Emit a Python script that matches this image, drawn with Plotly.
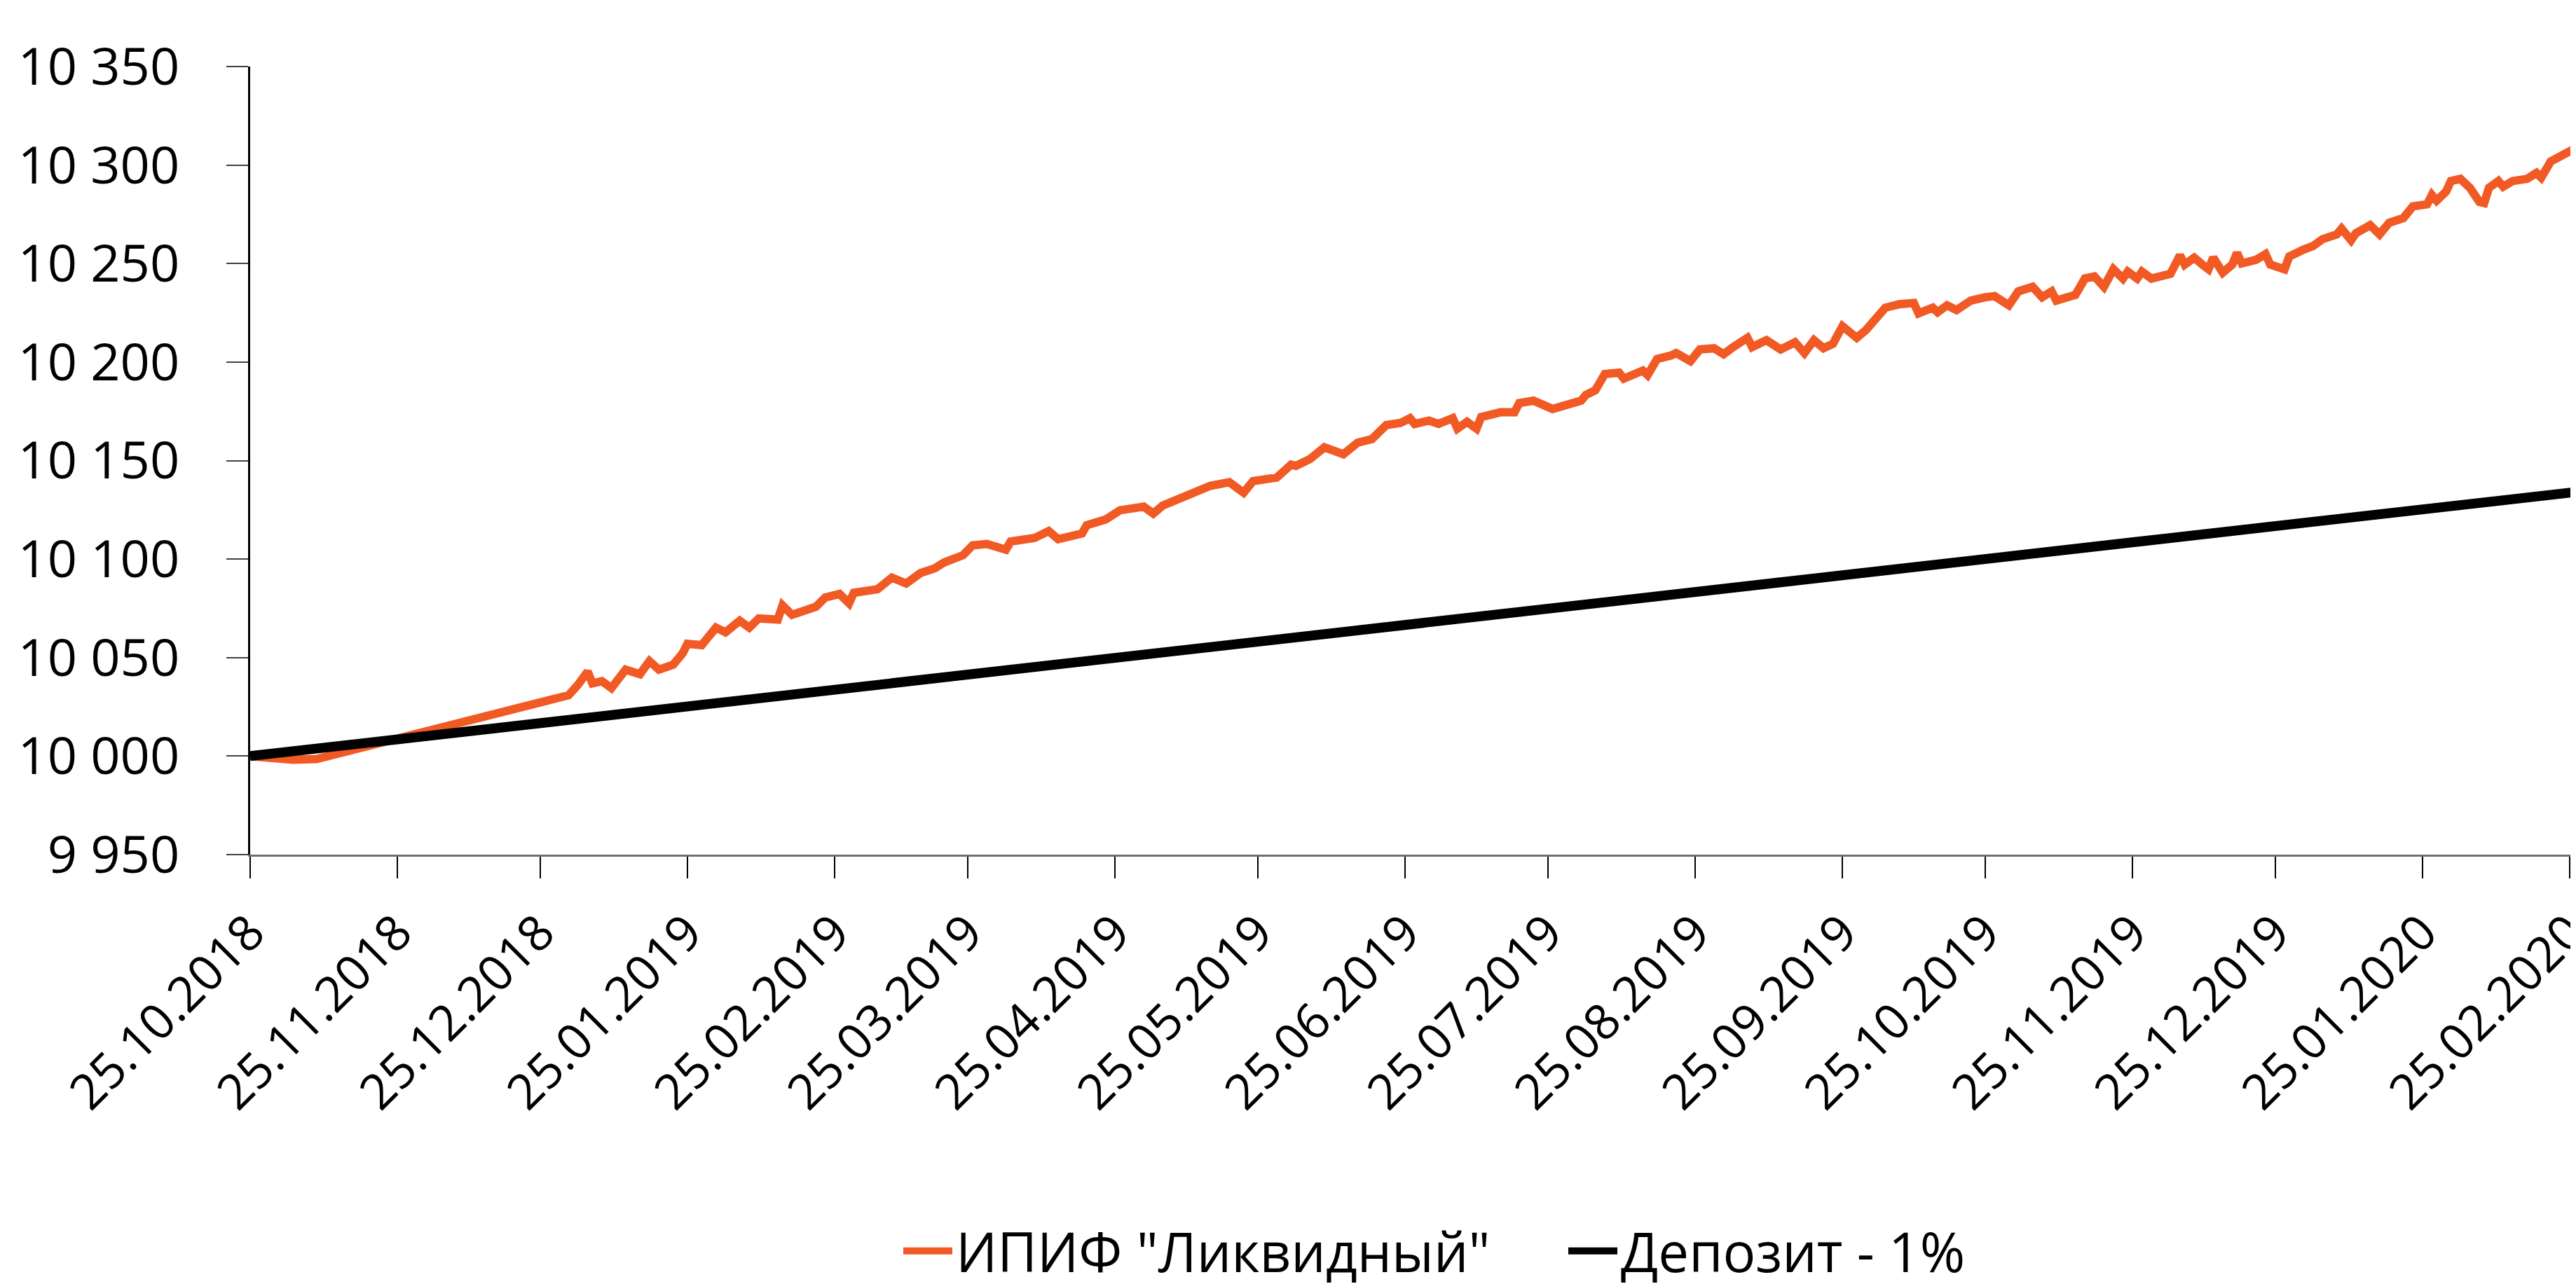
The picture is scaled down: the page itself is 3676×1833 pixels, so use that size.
import plotly.graph_objects as go

# --- Data ---
fund_dates = [
    "2018-10-25", "2018-11-03", "2018-11-08", "2018-12-31", "2019-01-02", "2019-01-04",
    "2019-01-05", "2019-01-07", "2019-01-09", "2019-01-12", "2019-01-15", "2019-01-17",
    "2019-01-19", "2019-01-22", "2019-01-24", "2019-01-25", "2019-01-28", "2019-01-31",
    "2019-02-02", "2019-02-05", "2019-02-07", "2019-02-09", "2019-02-13", "2019-02-14",
    "2019-02-16", "2019-02-21", "2019-02-23", "2019-02-26", "2019-02-28", "2019-03-01",
    "2019-03-06", "2019-03-09", "2019-03-12", "2019-03-15", "2019-03-18", "2019-03-20",
    "2019-03-24", "2019-03-26", "2019-03-29", "2019-04-02", "2019-04-03", "2019-04-08",
    "2019-04-11", "2019-04-13", "2019-04-18", "2019-04-19", "2019-04-23", "2019-04-26",
    "2019-05-01", "2019-05-03", "2019-05-05", "2019-05-07", "2019-05-11", "2019-05-13",
    "2019-05-15", "2019-05-19", "2019-05-22", "2019-05-24", "2019-05-29", "2019-06-01",
    "2019-06-02", "2019-06-05", "2019-06-08", "2019-06-12", "2019-06-15", "2019-06-18",
    "2019-06-21", "2019-06-24", "2019-06-26", "2019-06-27", "2019-06-30", "2019-07-02",
    "2019-07-05", "2019-07-06", "2019-07-08", "2019-07-10", "2019-07-11", "2019-07-15",
    "2019-07-18", "2019-07-19", "2019-07-22", "2019-07-26", "2019-08-01", "2019-08-02",
    "2019-08-04", "2019-08-06", "2019-08-09", "2019-08-10", "2019-08-14", "2019-08-15",
    "2019-08-17", "2019-08-20", "2019-08-21", "2019-08-24", "2019-08-26", "2019-08-29",
    "2019-08-31", "2019-09-02", "2019-09-05", "2019-09-06", "2019-09-09", "2019-09-12",
    "2019-09-15", "2019-09-17", "2019-09-19", "2019-09-21", "2019-09-23", "2019-09-25",
    "2019-09-28", "2019-09-30", "2019-10-04", "2019-10-07", "2019-10-10", "2019-10-11",
    "2019-10-14", "2019-10-15", "2019-10-17", "2019-10-19", "2019-10-22", "2019-10-25",
    "2019-10-27", "2019-10-30", "2019-11-01", "2019-11-04", "2019-11-06", "2019-11-08",
    "2019-11-09", "2019-11-13", "2019-11-15", "2019-11-17", "2019-11-19", "2019-11-21",
    "2019-11-23", "2019-11-24", "2019-11-26", "2019-11-27", "2019-11-29", "2019-12-03",
    "2019-12-05", "2019-12-06", "2019-12-08", "2019-12-10", "2019-12-11", "2019-12-12",
    "2019-12-14", "2019-12-16", "2019-12-17", "2019-12-18", "2019-12-21", "2019-12-23",
    "2019-12-24", "2019-12-27", "2019-12-28", "2019-12-31", "2020-01-02", "2020-01-04",
    "2020-01-07", "2020-01-08", "2020-01-10", "2020-01-11", "2020-01-14", "2020-01-16",
    "2020-01-18", "2020-01-21", "2020-01-23", "2020-01-26", "2020-01-27", "2020-01-28",
    "2020-01-30", "2020-01-31", "2020-02-02", "2020-02-04", "2020-02-06", "2020-02-07",
    "2020-02-08", "2020-02-10", "2020-02-11", "2020-02-13", "2020-02-16", "2020-02-18",
    "2020-02-19", "2020-02-21", "2020-02-23", "2020-02-26", "2020-02-27 12:00",
]
fund_values = [
    10000.0, 9998.2, 9998.5, 10030.9, 10036.3, 10042.9,
    10036.9, 10038.0, 10034.5, 10043.9, 10041.6, 10048.2,
    10043.9, 10046.4, 10052.2, 10057.0, 10056.3, 10065.2,
    10062.8, 10068.7, 10065.2, 10069.9, 10069.3, 10076.5,
    10071.7, 10075.8, 10080.5, 10082.3, 10077.6, 10082.9,
    10084.7, 10090.6, 10087.6, 10092.9, 10095.3, 10098.3,
    10102.0, 10107.0, 10107.7, 10104.8, 10108.9, 10110.7,
    10114.2, 10110.1, 10113.0, 10117.2, 10120.1, 10124.8,
    10126.6, 10123.1, 10127.2, 10129.0, 10133.1, 10134.3,
    10137.2, 10139.0, 10133.7, 10139.6, 10141.4, 10147.9,
    10147.3, 10150.8, 10156.7, 10153.2, 10159.1, 10160.9,
    10168.0, 10169.1, 10171.5, 10168.6, 10170.3, 10168.6,
    10171.5, 10166.2, 10169.7, 10166.2, 10172.1, 10174.5,
    10174.5, 10179.2, 10180.4, 10176.2, 10180.4, 10183.3,
    10185.7, 10193.9, 10194.6, 10191.6, 10195.7, 10193.4,
    10201.6, 10203.4, 10204.6, 10200.5, 10206.4, 10207.0,
    10204.0, 10207.6, 10212.3, 10207.6, 10211.1, 10206.4,
    10210.0, 10204.6, 10211.1, 10207.0, 10209.3, 10218.2,
    10212.3, 10216.4, 10227.6, 10229.4, 10230.0, 10224.7,
    10227.6, 10225.3, 10228.8, 10226.4, 10231.2, 10232.9,
    10233.5, 10228.8, 10235.9, 10238.2, 10232.9, 10235.9,
    10231.2, 10234.1, 10242.4, 10243.5, 10238.2, 10247.1,
    10242.4, 10245.9, 10242.4, 10245.9, 10242.4, 10244.8,
    10254.2, 10249.5, 10253.0, 10248.9, 10247.1, 10253.0,
    10245.4, 10249.5, 10255.4, 10250.1, 10251.9, 10254.8,
    10249.5, 10247.1, 10253.6, 10257.1, 10258.9, 10262.4,
    10264.8, 10267.7, 10261.8, 10265.4, 10269.5, 10264.8,
    10270.7, 10273.1, 10279.0, 10280.1, 10284.8, 10281.9,
    10286.6, 10291.9, 10293.0, 10288.4, 10281.3, 10280.7,
    10288.4, 10291.9, 10289.0, 10291.9, 10293.0, 10296.0,
    10293.6, 10301.8, 10304.8, 10308.3, 10312.0,
]

deposit_dates = [
    "2018-10-25", "2018-11-25", "2018-12-25", "2019-01-25", "2019-02-25", "2019-03-25",
    "2019-04-25", "2019-05-25", "2019-06-25", "2019-07-25", "2019-08-25", "2019-09-25",
    "2019-10-25", "2019-11-25", "2019-12-25", "2020-01-25", "2020-02-25", "2020-02-27 12:00",
]
deposit_values = [
    10000.0, 10008.5, 10016.7, 10025.2, 10033.7, 10041.4,
    10049.9, 10058.1, 10066.6, 10074.8, 10083.3, 10091.8,
    10100.0, 10108.5, 10116.7, 10125.2, 10133.7, 10134.4,
]

series_names = ['ИПИФ "Ликвидный"', "Депозит - 1%"]

tick_dates = [
    "2018-10-25", "2018-11-25", "2018-12-25", "2019-01-25", "2019-02-25", "2019-03-25",
    "2019-04-25", "2019-05-25", "2019-06-25", "2019-07-25", "2019-08-25", "2019-09-25",
    "2019-10-25", "2019-11-25", "2019-12-25", "2020-01-25", "2020-02-25",
]
tick_labels = [
    "25.10.2018", "25.11.2018", "25.12.2018", "25.01.2019", "25.02.2019", "25.03.2019",
    "25.04.2019", "25.05.2019", "25.06.2019", "25.07.2019", "25.08.2019", "25.09.2019",
    "25.10.2019", "25.11.2019", "25.12.2019", "25.01.2020", "25.02.2020",
]

x_range = ["2018-10-25", "2020-02-27 12:00"]
y_range = [9950, 10350]

FONT = "Open Sans, Noto Sans, sans-serif"

fig = go.Figure()
fig.add_trace(go.Scatter(
    x=fund_dates, y=fund_values, mode="lines", name=series_names[0],
    line=dict(color="#F15A24", width=12),
))
fig.add_trace(go.Scatter(
    x=deposit_dates, y=deposit_values, mode="lines", name=series_names[1],
    line=dict(color="#000000", width=14),
))

fig.update_layout(
    template="none",
    width=3676, height=1833,
    margin=dict(l=349, r=0, t=87, b=621, pad=0),
    paper_bgcolor="white", plot_bgcolor="white",
    separators=", ",
    showlegend=True,
    legend=dict(
        orientation="h", xref="container", yref="container",
        x=1276 / 3676, xanchor="left", y=0.03, yanchor="middle",
        font=dict(family=FONT, size=78, color="#000000"),
        itemwidth=70, entrywidthmode="pixels", entrywidth=864,
        bgcolor="rgba(0,0,0,0)", borderwidth=0,
    ),
)
fig.update_xaxes(
    type="date", range=x_range, automargin=False,
    tickvals=tick_dates, ticktext=tick_labels, tickangle=-45,
    ticks="outside", ticklen=31, tickwidth=2, tickcolor="#000000",
    showline=True, linecolor="#6f6f6f", linewidth=3,
    showgrid=False, zeroline=False, ticklabeloverflow="allow",
    tickfont=dict(family=FONT, size=70, color="#000000"), ticklabelstandoff=8,
)
fig.update_yaxes(
    range=y_range, dtick=50, tick0=9950, tickformat=",d", automargin=False,
    ticks="outside", ticklen=31, tickwidth=2, tickcolor="#404040",
    showline=True, linecolor="#000000", linewidth=3,
    showgrid=False, zeroline=False, ticklabeloverflow="allow",
    tickfont=dict(family=FONT, size=74, color="#000000"), ticklabelstandoff=52,
)

fig.write_html("out.html")
